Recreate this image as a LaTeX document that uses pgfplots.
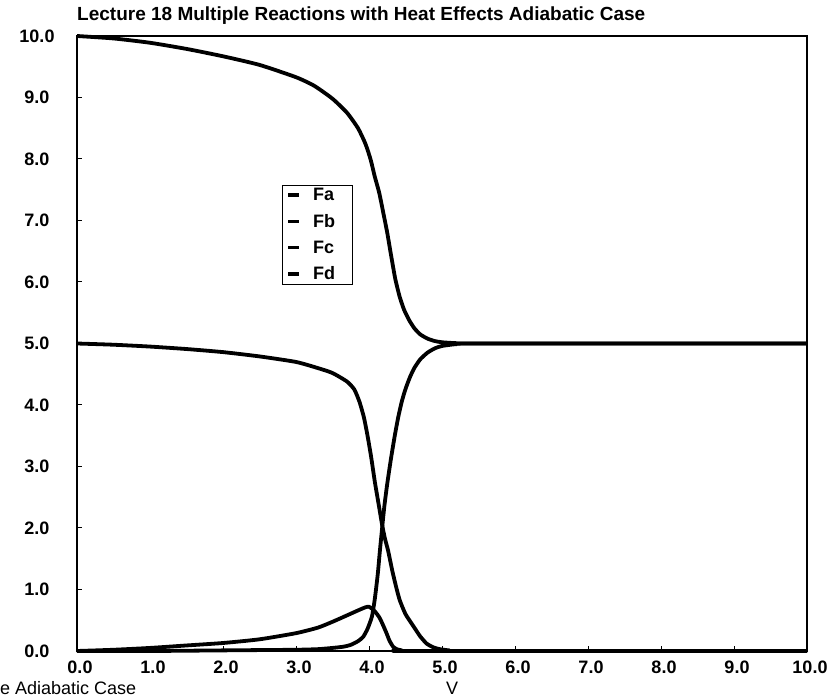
\documentclass[border=0pt]{standalone}
\usepackage{fontspec}
\setmainfont{Liberation Sans}
\usepackage{pgfplots}
\pgfplotsset{compat=1.18}
\newcommand{\chartfont}{\fontsize{18}{21}\selectfont}
\newcommand{\titlefont}{\fontsize{19}{22}\selectfont}
\begin{document}
\begin{tikzpicture}
\begin{axis}[
  at={(0,0)}, anchor=south west,
  scale only axis, width=730pt, height=615pt,
  xmin=0, xmax=10, ymin=0, ymax=10,
  xtick={0,1,...,10}, ytick={0,1,...,10},
  tick align=inside, tick pos=left,
  major tick length=5pt,
  every tick/.style={black, line width=1pt},
  axis line style={line width=2pt},
  ticklabel style={font=\bfseries\chartfont,
    /pgf/number format/fixed, /pgf/number format/fixed zerofill,
    /pgf/number format/precision=1, /pgf/number format/assume math mode=true},
  xticklabel style={anchor=center, yshift=-16pt, xshift=3pt},
  yticklabel style={anchor=center, xshift=-40pt},
  xlabel={V},
  xlabel style={at={(axis description cs:0.5,0)}, anchor=center, inner sep=0pt, yshift=-37pt, xshift=10pt, font=\chartfont},
  title={Lecture 18 Multiple Reactions with Heat Effects Adiabatic Case},
  title style={at={(axis description cs:0,1)}, anchor=base west, yshift=9pt, inner sep=0pt, font=\bfseries\titlefont},
  legend style={at={(axis cs:2.81,7.58)}, anchor=north west, draw=black, line width=0.8pt,
    fill=white, font=\bfseries\chartfont, inner xsep=4pt, inner ysep=1pt, row sep=8pt,
    cells={anchor=west}, /tikz/every odd column/.append style={column sep=10pt}},
  legend image code/.code={\draw[black, line width=3.5pt] (0pt,0pt) -- (11pt,0pt);},
  clip=false,
]
\addplot[black, line width=3.8pt, line join=round, no markers, smooth, tension=0.35] coordinates {
(0,10.00) (0.5,9.96) (1.0,9.89) (1.5,9.79) (2.0,9.67) (2.5,9.53) (3.0,9.33)
(3.25,9.19) (3.5,8.98) (3.7,8.75) (3.85,8.50) (3.95,8.25) (4.02,8.00) (4.08,7.71)
(4.14,7.45) (4.20,7.10) (4.25,6.80) (4.30,6.45) (4.36,6.05) (4.42,5.76) (4.48,5.55)
(4.55,5.38) (4.62,5.25) (4.70,5.15) (4.80,5.08) (4.90,5.04) (5.00,5.02) (5.20,5.005)
(5.5,5.0) (10,5.0)};
\addlegendentry{Fa\hspace*{12pt}}
\addplot[black, line width=3.8pt, line join=round, no markers, smooth, tension=0.35] coordinates {
(0,5.00) (0.5,4.98) (1.0,4.95) (1.5,4.91) (2.0,4.86) (2.5,4.79) (3.0,4.70)
(3.3,4.60) (3.5,4.52) (3.7,4.38) (3.8,4.25) (3.87,4.05) (3.93,3.80) (3.98,3.50)
(4.03,3.15) (4.08,2.75) (4.13,2.40) (4.18,2.05) (4.22,1.82) (4.26,1.64) (4.32,1.30)
(4.37,1.05) (4.42,0.83) (4.50,0.60) (4.61,0.40) (4.70,0.24) (4.79,0.12) (4.88,0.06)
(4.97,0.03) (5.10,0.01) (5.3,0) (10,0)};
\addlegendentry{Fb}
\addplot[black, line width=3.8pt, line join=round, no markers, smooth, tension=0.35] coordinates {
(0,0) (1.0,0) (2.0,0.01) (2.5,0.015) (3.0,0.02) (3.3,0.03) (3.5,0.05) (3.65,0.07)
(3.75,0.10) (3.85,0.16) (3.92,0.23) (3.98,0.36) (4.04,0.56) (4.08,0.85) (4.12,1.25)
(4.15,1.64) (4.18,2.00) (4.21,2.35) (4.25,2.72) (4.30,3.12) (4.35,3.48) (4.40,3.80)
(4.45,4.06) (4.50,4.26) (4.56,4.45) (4.62,4.60) (4.70,4.74) (4.80,4.85) (4.90,4.92)
(5.00,4.96) (5.2,4.99) (5.5,5.0) (10,5.0)};
\addlegendentry{Fc}
\addplot[black, line width=3.8pt, line join=round, no markers, smooth, tension=0.35] coordinates {
(0,0) (0.5,0.02) (1.0,0.05) (1.5,0.09) (2.0,0.13) (2.5,0.19) (3.0,0.29) (3.3,0.38)
(3.51,0.48) (3.7,0.58) (3.85,0.66) (3.95,0.71) (4.0,0.72) (4.06,0.67) (4.11,0.60)
(4.15,0.53) (4.20,0.40) (4.24,0.29) (4.28,0.17) (4.33,0.07) (4.38,0.03) (4.45,0.01)
(4.6,0) (10,0)};
\addlegendentry{Fd}
\end{axis}
\node[anchor=base west, inner sep=0pt, font=\chartfont] at (-77pt,-43pt)
  {e Adiabatic Case};
\pgfresetboundingbox
\useasboundingbox (-77pt,-48pt) rectangle (761pt,651pt);
\end{tikzpicture}
\end{document}
